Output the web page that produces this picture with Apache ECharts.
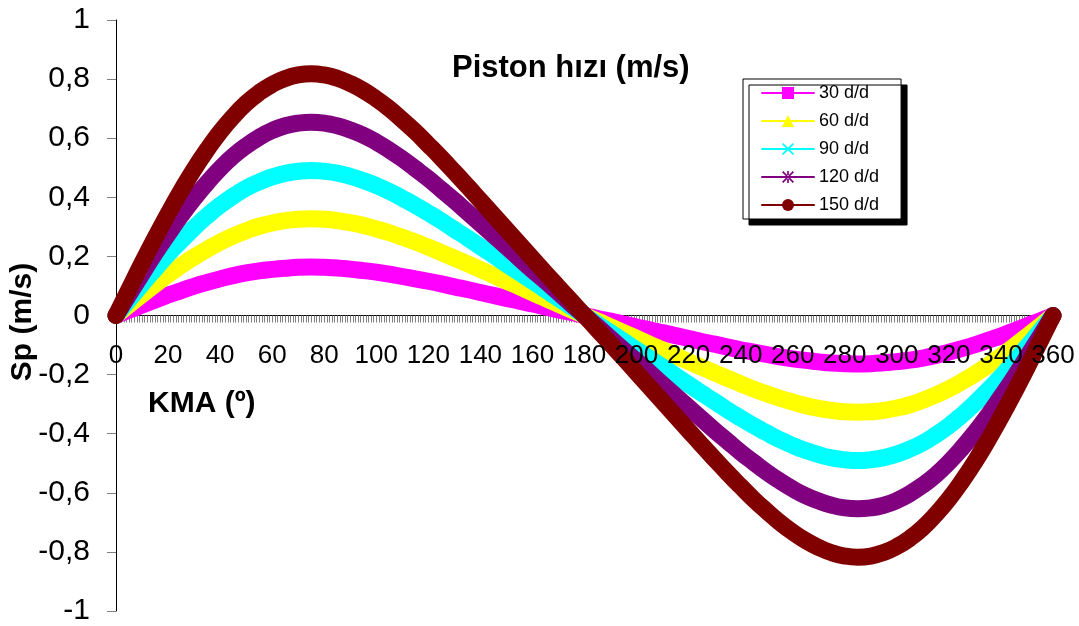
<!DOCTYPE html>
<html>
<head>
<meta charset="utf-8">
<script src="https://cdn.jsdelivr.net/npm/echarts@6/dist/echarts.min.js"></script>
<style>
html,body{margin:0;padding:0;background:#fff;}
#chart{width:1079px;height:626px;}
</style>
</head>
<body>
<div id="chart"></div>
<script>
// Crank angle (KMA, degrees)
var angles = [0,5,10,15,20,25,30,35,40,45,50,55,60,65,70,75,80,85,90,95,100,105,110,115,120,125,130,135,140,145,150,155,160,165,170,175,180,
  185,190,195,200,205,210,215,220,225,230,235,240,245,250,255,260,265,270,275,280,285,290,295,300,305,310,315,320,325,330,335,340,345,350,355,360];

// Piston speed (m/s) per engine speed
var s30 = [0,0.018,0.035,0.052,0.069,0.084,0.099,0.112,0.124,0.135,0.144,0.151,0.156,0.160,0.163,0.164,0.163,0.161,0.157,0.152,0.147,0.140,0.132,0.124,0.116,0.107,0.097,0.088,0.078,0.068,0.058,0.048,0.039,0.029,0.019,0.010,0,
  -0.010,-0.019,-0.029,-0.039,-0.048,-0.058,-0.068,-0.078,-0.088,-0.097,-0.107,-0.116,-0.124,-0.132,-0.140,-0.147,-0.152,-0.157,-0.161,-0.163,-0.164,-0.163,-0.160,-0.156,-0.151,-0.144,-0.135,-0.124,-0.112,-0.099,-0.084,-0.069,-0.052,-0.035,-0.018,0];
var s60 = [0,0.036,0.071,0.105,0.138,0.169,0.198,0.224,0.248,0.269,0.287,0.302,0.313,0.321,0.326,0.327,0.326,0.321,0.314,0.305,0.293,0.280,0.265,0.249,0.231,0.213,0.194,0.175,0.156,0.136,0.116,0.097,0.077,0.058,0.038,0.019,0,
  -0.019,-0.038,-0.058,-0.077,-0.097,-0.116,-0.136,-0.156,-0.175,-0.194,-0.213,-0.231,-0.249,-0.265,-0.280,-0.293,-0.305,-0.314,-0.321,-0.326,-0.327,-0.326,-0.321,-0.313,-0.302,-0.287,-0.269,-0.248,-0.224,-0.198,-0.169,-0.138,-0.105,-0.071,-0.036,0];
var s90 = [0,0.053,0.106,0.157,0.207,0.253,0.297,0.337,0.373,0.404,0.431,0.452,0.469,0.481,0.488,0.491,0.488,0.482,0.471,0.457,0.440,0.420,0.397,0.373,0.347,0.320,0.291,0.263,0.233,0.204,0.174,0.145,0.116,0.087,0.058,0.029,0,
  -0.029,-0.058,-0.087,-0.116,-0.145,-0.174,-0.204,-0.233,-0.263,-0.291,-0.320,-0.347,-0.373,-0.397,-0.420,-0.440,-0.457,-0.471,-0.482,-0.488,-0.491,-0.488,-0.481,-0.469,-0.452,-0.431,-0.404,-0.373,-0.337,-0.297,-0.253,-0.207,-0.157,-0.106,-0.053,0];
var s120 = [0,0.071,0.141,0.210,0.275,0.338,0.396,0.449,0.497,0.539,0.574,0.603,0.626,0.642,0.651,0.654,0.651,0.642,0.628,0.610,0.587,0.560,0.530,0.497,0.463,0.426,0.389,0.350,0.311,0.272,0.233,0.193,0.154,0.116,0.077,0.038,0,
  -0.038,-0.077,-0.116,-0.154,-0.193,-0.233,-0.272,-0.311,-0.350,-0.389,-0.426,-0.463,-0.497,-0.530,-0.560,-0.587,-0.610,-0.628,-0.642,-0.651,-0.654,-0.651,-0.642,-0.626,-0.603,-0.574,-0.539,-0.497,-0.449,-0.396,-0.338,-0.275,-0.210,-0.141,-0.071,0];
var s150 = [0,0.089,0.177,0.262,0.344,0.422,0.495,0.561,0.621,0.673,0.718,0.754,0.782,0.802,0.814,0.818,0.814,0.803,0.785,0.762,0.733,0.700,0.662,0.622,0.578,0.533,0.486,0.438,0.389,0.340,0.291,0.242,0.193,0.144,0.096,0.048,0,
  -0.048,-0.096,-0.144,-0.193,-0.242,-0.291,-0.340,-0.389,-0.438,-0.486,-0.533,-0.578,-0.622,-0.662,-0.700,-0.733,-0.762,-0.785,-0.803,-0.814,-0.818,-0.814,-0.802,-0.782,-0.754,-0.718,-0.673,-0.621,-0.561,-0.495,-0.422,-0.344,-0.262,-0.177,-0.089,0];

var seriesNames = ['30 d/d','60 d/d','90 d/d','120 d/d','150 d/d'];
var seriesValues = [s30, s60, s90, s120, s150];
var seriesColors = ['#FF00FF','#FFFF00','#00FFFF','#800080','#800000'];
var xSym = 'path://M1,0 L5,4 L9,0 L10,1 L6,5 L10,9 L9,10 L5,6 L1,10 L0,9 L4,5 L0,1 Z';
var starSym = 'path://M1,0 L5,4 L9,0 L10,1 L6,5 L10,9 L9,10 L5,6 L1,10 L0,9 L4,5 L0,1 Z M4.3,0 L4.3,10 L5.7,10 L5.7,0 Z';
var seriesSymbols = ['rect','triangle', xSym, starSym, 'circle'];

var titleText = 'Piston hızı (m/s)';
var yName = 'Sp (m/s)';
var xName = 'KMA (º)';

var FONT = "'Liberation Sans', Arial, Helvetica, sans-serif";

var GRID_TOP = 20, GRID_BOTTOM = 15, H = 626;
// distance from bottom grid edge up to the value-0 line (y range is symmetric)
var zeroOffset = (H - GRID_TOP - GRID_BOTTOM) / 2;

var chart = echarts.init(document.getElementById('chart'), null, {renderer:'canvas'});

var series = seriesValues.map(function (vals, i) {
  return {
    name: seriesNames[i],
    type: 'line',
    xAxisIndex: 0,
    data: angles.map(function (a, j) { return [a, vals[j]]; }),
    symbol: seriesSymbols[i],
    showSymbol: false,
    smooth: true,
    clip: false,
    color: seriesColors[i],
    lineStyle: { width: 17, color: seriesColors[i], cap: 'round', join: 'round' },
    itemStyle: { color: seriesColors[i] },
    emphasis: { disabled: true },
    z: 2 + i
  };
});

var xLabelStyle = { fontFamily: FONT, fontSize: 26, color: '#000', margin: 27, showMinLabel: true, showMaxLabel: true };

chart.setOption({
  animation: false,
  backgroundColor: '#ffffff',
  title: {
    text: titleText,
    left: 452,
    top: 53,
    padding: 0,
    textStyle: { fontFamily: FONT, fontSize: 31, fontWeight: 'bold', color: '#000' }
  },
  legend: {
    orient: 'vertical',
    left: 743,
    top: 79,
    padding: [5, 22, 5, 18],
    itemWidth: 52,
    itemHeight: 15,
    itemGap: 10,
    backgroundColor: '#ffffff',
    borderColor: '#000',
    borderWidth: 1,
    shadowColor: '#000',
    shadowBlur: 0,
    shadowOffsetX: 6,
    shadowOffsetY: 6,
    selectedMode: false,
    textStyle: { fontFamily: FONT, fontSize: 18, color: '#000' },
    data: seriesNames
  },
  grid: { left: 116, right: 26, top: GRID_TOP, bottom: GRID_BOTTOM, containLabel: false, outerBoundsMode: 'none' },
  xAxis: [
    {
      type: 'value',
      min: 0, max: 360, interval: 20,
      position: 'bottom',
      offset: -zeroOffset,
      z: 0,
      axisLine: { onZero: false, lineStyle: { color: '#000', width: 1 } },
      axisTick: { show: true, length: 7, lineStyle: { color: '#808080' } },
      minorTick: { show: true, splitNumber: 20, length: 7, lineStyle: { color: '#808080' } },
      splitLine: { show: false },
      axisLabel: { show: false }
    },
    {
      // label-only copy of the x axis, drawn above the curves
      type: 'value',
      min: 0, max: 360, interval: 20,
      position: 'bottom',
      offset: -zeroOffset,
      z: 20,
      axisLine: { show: false, onZero: false },
      axisTick: { show: false },
      splitLine: { show: false },
      axisLabel: xLabelStyle
    }
  ],
  yAxis: {
    type: 'value',
    min: -1, max: 1, interval: 0.2,
    axisLine: { show: true, lineStyle: { color: '#000', width: 1 } },
    axisTick: { show: true, length: 9, lineStyle: { color: '#808080' } },
    splitLine: { show: false },
    axisLabel: {
      fontFamily: FONT, fontSize: 30, color: '#000', margin: 26,
      formatter: function (v) { return String(Math.round(v * 10) / 10).replace('.', ','); }
    }
  },
  graphic: [
    {
      type: 'text', x: 23, y: 322, rotation: Math.PI / 2, z: 100,
      style: { text: yName, x: 0, y: 0, align: 'center', verticalAlign: 'middle',
               fontFamily: FONT, fontSize: 30, fontWeight: 'bold', fill: '#000' }
    },
    {
      type: 'text', x: 148, y: 404, z: 100,
      style: { text: xName, x: 0, y: 0, align: 'left', verticalAlign: 'middle',
               fontFamily: FONT, fontSize: 30, fontWeight: 'bold', fill: '#000' }
    }
  ],
  series: series
});
</script>
</body>
</html>
